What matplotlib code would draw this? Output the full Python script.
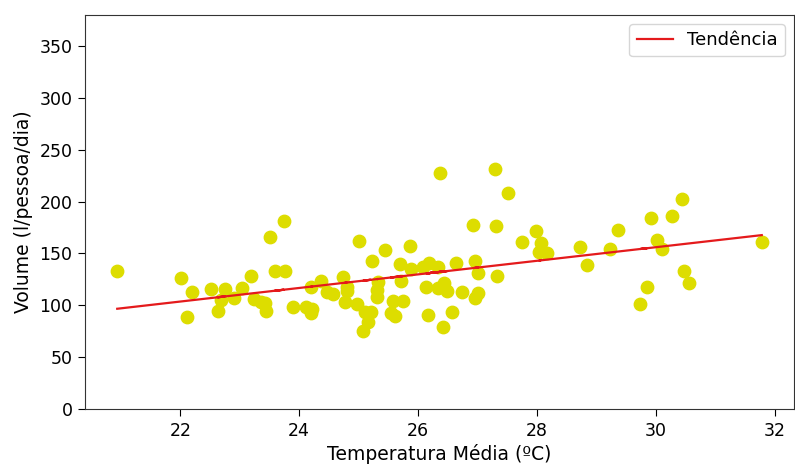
import numpy as np
import matplotlib
matplotlib.use('Agg')
import matplotlib.pyplot as plt

# Temperatura média (ºC) e volume consumido (l/pessoa/dia)
temperatura = [20.94, 22.02, 22.12, 22.19, 22.52, 22.75, 22.69, 22.63, 22.91, 23.04,
               23.19, 23.24, 23.35, 23.42, 23.44, 23.51, 23.74, 23.59, 23.76, 23.89,
               24.12, 24.20, 24.22, 24.20, 24.36, 24.46, 24.57, 24.73, 24.80, 24.80,
               24.77, 24.98, 25.01, 25.10, 25.20, 25.16, 25.08, 25.23, 25.32, 25.31,
               25.31, 25.44, 25.58, 25.74, 25.54, 25.61, 25.70, 25.71, 25.87, 25.88,
               26.08, 26.19, 26.34, 26.14, 26.33, 26.44, 26.49, 26.17, 26.42, 26.36,
               26.57, 26.64, 26.73, 26.93, 26.96, 27.00, 27.01, 26.95, 27.30, 27.31,
               27.33, 27.51, 27.74, 27.98, 28.06, 28.04, 28.17, 28.73, 28.84, 29.23,
               29.36, 29.85, 29.74, 29.91, 30.01, 30.11, 30.27, 30.44, 30.48, 30.56,
               31.78]
volume = [133.4, 126.6, 88.4, 112.5, 115.7, 115.7, 105.1, 94.8, 107.3, 117.0,
          128.3, 106.0, 102.9, 101.9, 94.5, 165.9, 181.6, 133.1, 133.1, 98.4,
          98.7, 92.3, 96.5, 117.9, 123.5, 113.1, 110.9, 127.6, 117.9, 113.8,
          103.5, 101.0, 162.3, 93.8, 93.8, 84.2, 75.2, 142.7, 122.8, 114.8,
          108.3, 153.6, 104.4, 104.4, 92.3, 89.7, 139.8, 123.4, 156.9, 134.7,
          136.6, 141.1, 136.6, 117.9, 116.4, 121.2, 114.1, 90.6, 79.1, 227.6,
          93.2, 140.5, 112.8, 177.1, 142.7, 131.4, 112.2, 107.3, 231.7, 176.5,
          128.3, 208.3, 161.3, 171.4, 159.8, 151.7, 150.1, 155.9, 138.6, 154.0,
          172.9, 117.4, 101.5, 184.2, 163.0, 154.0, 186.1, 202.2, 133.1, 121.5,
          161.3]

x = np.array(temperatura)
y = np.array(volume)

# Reta de tendência (mínimos quadrados)
coef = np.polyfit(x, y, 1)
tendencia = np.poly1d(coef)

fig = plt.figure(figsize=(7.95, 4.66), dpi=100)
ax = fig.add_axes([85 / 795, 1 - 409 / 466, 709 / 795, 394 / 466])

ax.scatter(x, y, s=80, color='#dddd00', zorder=2)
ax.plot(x, tendencia(x), color='#e41a1c', lw=1.6, label='Tendência', zorder=3)

ax.set_ylim(0, 380)
ax.set_yticks(range(0, 351, 50))
ax.set_xticks(range(22, 33, 2))
ax.tick_params(labelsize=12.5, length=5, pad=4)
for s in ax.spines.values():
    s.set_color('#333333')

ax.set_xlabel('Temperatura Média (ºC)', fontsize=13.5, labelpad=3)
ax.set_ylabel('Volume (l/pessoa/dia)', fontsize=13.5, labelpad=5)
ax.legend(loc='upper right', fontsize=13)

fig.savefig('out.png', dpi=100)
